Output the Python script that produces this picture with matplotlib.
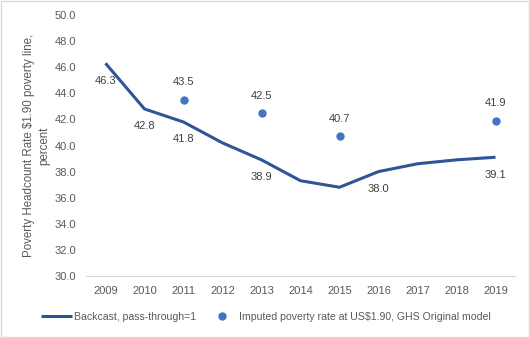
import matplotlib
matplotlib.use("Agg")
import matplotlib.pyplot as plt
from matplotlib.patches import Rectangle

plt.rcParams["font.family"] = ["Liberation Sans", "DejaVu Sans"]

# 数据
years = [2009, 2010, 2011, 2012, 2013, 2014, 2015, 2016, 2017, 2018, 2019]
backcast = [46.3, 42.8, 41.8, 40.2, 38.9, 37.3, 36.8, 38.0, 38.6, 38.9, 39.1]
backcast_labeled = [2009, 2010, 2011, 2013, 2016, 2019]
imputed_years = [2011, 2013, 2015, 2019]
imputed = [43.5, 42.5, 40.7, 41.9]
y_ticks = [30, 32, 34, 36, 38, 40, 42, 44, 46, 48, 50]

line_color = "#2F5597"
dot_color = "#4472C4"
text_color = "#595959"

fig = plt.figure(figsize=(5.3, 3.38), dpi=100)
ax = fig.add_axes([86 / 530, 1 - 276 / 338, 429 / 530, 261 / 338])

ax.plot(years, backcast, color=line_color, linewidth=2.2, solid_capstyle="butt",
        label="Backcast, pass-through=1")
ax.plot(imputed_years, imputed, "o", color=dot_color, markersize=5,
        label="Imputed poverty rate at US\\$1.90, GHS Original model")

# 数据标签
for x, v in zip(years, backcast):
    if x in backcast_labeled:
        ax.annotate(f"{v:.1f}", (x, v), xytext=(0, -12.5), textcoords="offset points",
                    ha="center", va="center", fontsize=8, color="#404040")
for x, v in zip(imputed_years, imputed):
    ax.annotate(f"{v:.1f}", (x, v), xytext=(0, 12.5), textcoords="offset points",
                ha="center", va="center", fontsize=8, color="#404040")

ax.set_ylim(30, 50)
ax.set_xlim(2008.5, 2019.5)
ax.set_yticks(y_ticks)
ax.set_yticklabels([f"{t:.1f}" for t in y_ticks])
ax.set_xticks(years)
ax.tick_params(axis="both", length=0, labelsize=8, colors=text_color, pad=7)
for s in ["top", "right", "left"]:
    ax.spines[s].set_visible(False)
ax.spines["bottom"].set_color("#D9D9D9")
ax.set_ylabel("Poverty Headcount Rate \\$1.90 poverty line,\npercent",
              fontsize=8.3, color=text_color, labelpad=3, linespacing=1.4)

ax.legend(loc="upper center", bbox_to_anchor=(0.42, -0.1), ncol=2, frameon=False,
          fontsize=7.6, labelcolor=text_color, handlelength=2.9, columnspacing=1.0,
          handletextpad=0.2)

# 外框
fig.patches.append(Rectangle((0.002, 0.003), 0.996, 0.994, transform=fig.transFigure,
                             fill=False, edgecolor="#D9D9D9", linewidth=1))

fig.savefig("out.png", dpi=100)
